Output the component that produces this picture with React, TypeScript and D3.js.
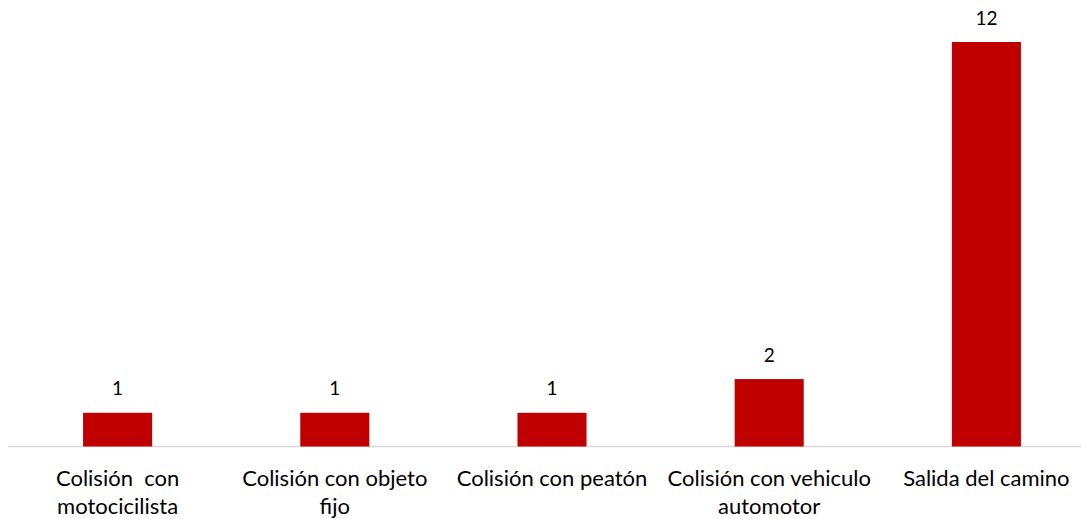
import React from "react";
import * as d3 from "d3";

const categories: string[][] = [
  ["Colisión  con", "motocicilista"],
  ["Colisión con objeto", "fijo"],
  ["Colisión con peatón"],
  ["Colisión con vehiculo", "automotor"],
  ["Salida del camino"],
];
const values: number[] = [1, 1, 1, 2, 12];

const W = 1081;
const H = 519;
const FONT = "Lato, 'Open Sans', sans-serif";

export default function App() {
  const ids = categories.map((_, i) => String(i));
  const x = d3.scaleBand<string>().domain(ids).range([9, 1095]).paddingInner(0.682).paddingOuter(0.341);
  const y = d3.scaleLinear().domain([0, 12]).range([446.5, 42]);
  return (
    <svg width={W} height={H} style={{ position: "absolute", left: 0, top: 0 }}>
      <rect width={W} height={H} fill="#fff" />
      <line x1={8} x2={1081} y1={446.5} y2={446.5} stroke="#d9d9d9" strokeWidth={1.5} />
      {values.map((v, i) => (
        <g key={i}>
          <rect x={x(ids[i])} y={y(v)} width={x.bandwidth()} height={y(0) - y(v)} fill="#c00000" />
          <text x={x(ids[i])! + x.bandwidth() / 2} y={y(v) - 17.5} textAnchor="middle" fontFamily={FONT} fontSize={19} fill="#000">{v}</text>
          {categories[i].map((line, j) => (
            <text key={j} x={x(ids[i])! + x.bandwidth() / 2} y={486 + j * 28} textAnchor="middle" fontFamily={FONT} fontSize={22} fill="#000" style={{ whiteSpace: "pre" }}>{line}</text>
          ))}
        </g>
      ))}
    </svg>
  );
}
